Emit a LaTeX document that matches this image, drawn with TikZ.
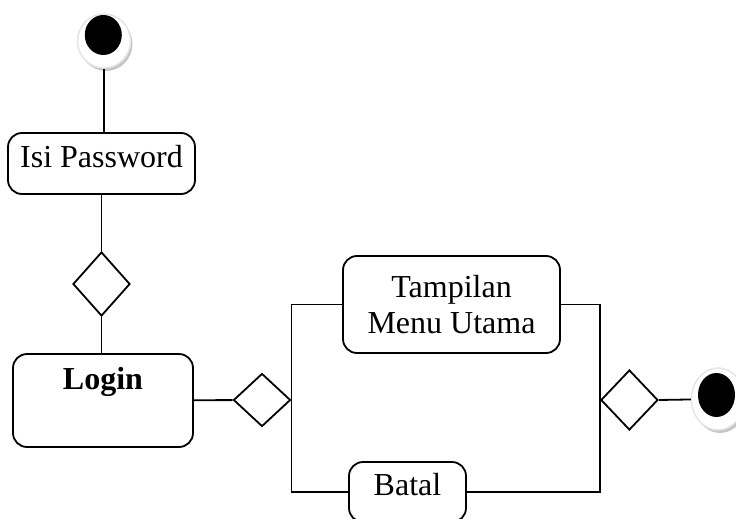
\documentclass[tikz,border=0pt]{standalone}
\usepackage{fontspec}
\setmainfont{Liberation Serif}
\usetikzlibrary{shapes.geometric,shadows}
\def\bigtext{\fontsize{32}{36}\selectfont}
\def\link{\draw[line width=1.8pt]}

\begin{document}
\begin{tikzpicture}[x=1pt,y=-1pt,
    act/.style={draw,line width=1.8pt,rounded corners=14pt,font=\bigtext,align=center,inner sep=0pt},
    dec/.style={draw,line width=1.8pt,diamond,inner sep=0pt,minimum width=57pt},
    ring/.style={ellipse,draw=gray!20,fill=white,line width=1.5pt,minimum width=53pt,
        drop shadow={shadow xshift=2pt,shadow yshift=-3pt,fill=gray!45,opacity=1}},
    dot/.style={ellipse,fill=black,inner sep=0pt,minimum width=37pt}]
    \useasboundingbox (0,0) rectangle (736,519);
    % start
    \node[ring,minimum height=54pt] (start) at (104,41) {};
    \node[dot,minimum height=40pt] (startdot) at (103.3,35) {};
    % actions and decisions
    \node[act,anchor=base,minimum width=187pt,text height=34pt,text depth=27pt] (isi) at (101.5,167) {Isi Password};
    \node[dec,minimum height=64pt] (d1) at (101.5,284) {};
    \node[act,anchor=base,minimum width=180pt,text height=35pt,text depth=58pt,font=\bigtext\bfseries] (login) at (103,389) {Login};
    \node[dec,minimum height=53pt] (d2) at (262,400) {};
    \node[act,minimum width=217pt,minimum height=97pt] (menu) at (451.5,304.5) {Tampilan\\Menu Utama};
    \node[act,anchor=base,minimum width=117pt,text height=33pt,text depth=27pt] (batal) at (407.5,495) {Batal};
    \coordinate (forkl) at (d2.east);
    \coordinate (forkr) at (600,400);
    \node[dec,anchor=west,minimum height=60pt] (d3) at (forkr) {};
    % end
    \node[ring,minimum height=62pt] (final) at (718,399) {};
    \node[dot,minimum height=44pt] (finaldot) at (716.5,395) {};
    % flow
    \link (start.south) -- (start.south |- isi.north);
    \link (isi.south) -- (d1.north);
    \link (d1.south) -- (d1.south |- login.north);
    \link (login) -- (d2);
    \link (menu.west) -| (forkl) |- (batal.west);
    \link (menu.east) -| (forkr) |- (batal.east);
    \link (d3.east) -- (final);
\end{tikzpicture}
\end{document}
